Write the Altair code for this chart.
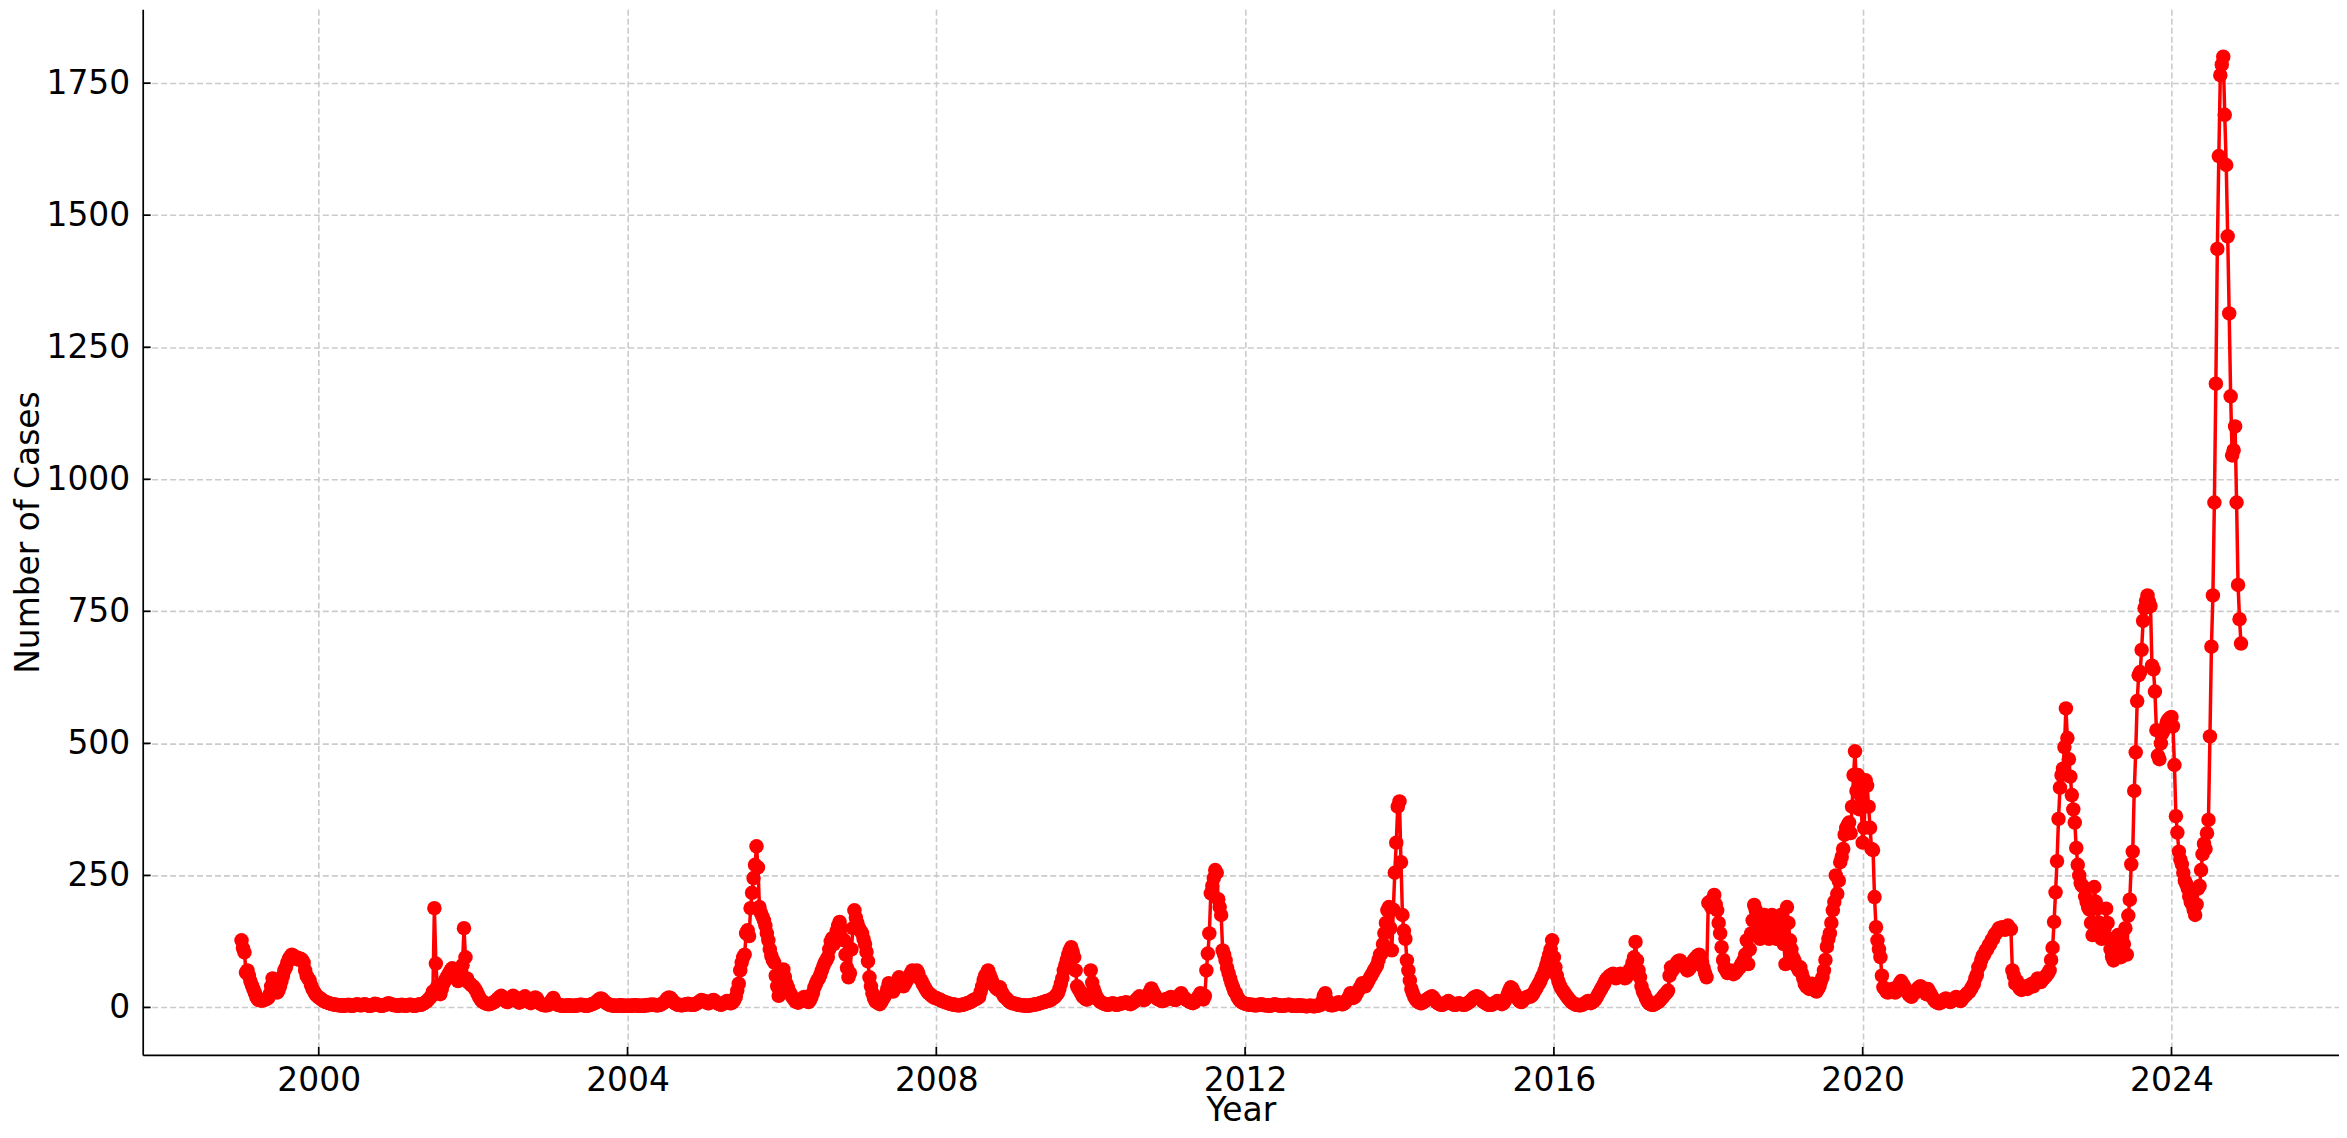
import altair as alt
import pandas as pd

# Weekly case counts (one list per year)
cases_1999 = [127, 112, 104, 66, 70, 60, 50, 42, 35, 28,
              20, 15, 14, 13, 13, 14, 15, 16, 18, 25,
              40, 55, 45, 30, 28, 32, 40, 50, 60, 70,
              76, 85, 92, 96, 100, 98, 95, 92, 94, 90,
              92, 90, 85, 70, 60, 55, 51, 42, 35, 30,
              25, 22]
cases_2000 = [19, 17, 15, 13, 11, 10, 9, 8, 7, 6,
              6, 5, 5, 4, 4, 4, 3, 3, 4, 4,
              5, 4, 3, 3, 4, 5, 6, 5, 4, 4,
              5, 6, 5, 4, 3, 3, 4, 5, 7, 6,
              5, 4, 3, 3, 4, 5, 6, 8, 7, 6,
              5, 4]
cases_2001 = [4, 3, 3, 4, 5, 4, 3, 3, 4, 5,
              5, 4, 3, 3, 4, 5, 6, 5, 6, 8,
              10, 12, 15, 18, 22, 30, 188, 83,
              40, 30, 25, 35, 45, 50, 55, 60, 65, 70,
              74, 70, 60, 55, 50, 60, 70, 80, 150, 95,
              55, 48, 45, 42]
cases_2002 = [40, 36, 32, 26, 20, 15, 12, 10, 8, 7, 6, 6, 7,
              8, 10, 12, 14, 17, 20, 22, 20, 16, 12, 10, 12, 15,
              18, 22, 20, 16, 12, 9, 10, 14, 18, 21, 18, 14, 10,
              8, 10, 14, 19, 17, 12, 8, 6, 5, 4, 4, 4, 5]
cases_2003 = [10, 14, 18, 12, 7, 5, 4, 4, 3, 3,
              3, 3, 4, 4, 3, 3, 3, 3, 4, 4,
              5, 5, 4, 4, 3, 3, 4, 5, 6, 7,
              8, 10, 13, 15, 17, 16, 13, 10, 8, 6,
              5, 4, 4, 3, 3, 3, 3, 4, 4, 3,
              3, 3]
cases_2004 = [3, 3, 3, 3, 4, 4, 4, 3, 3, 3,
              3, 3, 4, 4, 4, 5, 5, 5, 5, 4,
              4, 4, 5, 6, 8, 10, 14, 17, 19, 18,
              15, 11, 8, 6, 5, 5, 4, 4, 5, 5,
              6, 7, 6, 5, 5, 5, 6, 8, 10, 12,
              14, 12]
cases_2005 = [12, 10, 8, 8, 10, 13, 14, 12, 9, 7, 6, 5, 6, 8, 10, 12, 10, 8, 8, 10,
              14, 20, 32, 45, 70, 85, 95, 100, 140, 146, 135, 188, 217, 245, 270, 305,
              265, 190, 179, 172, 165, 155, 140, 127, 110, 98, 90, 85, 60, 40, 22, 45]
cases_2006 = [65, 72, 58, 45, 38, 30, 25, 20, 16, 12, 10, 9, 11, 14, 17, 20,
              15, 12, 10, 14, 20, 28, 38, 45,
              51, 55, 62, 70, 78, 85, 89, 95,
              110, 125, 131, 120, 130, 145, 155, 162,
              150, 130, 127, 100, 75, 57,
              65, 110, 150, 184, 170, 160]
cases_2007 = [150, 145, 140, 130, 120, 105, 87, 57,
              40, 27, 18, 12, 10,
              8, 6, 10, 15, 20, 25, 35, 46,
              40, 35, 30, 35, 45, 50, 57, 50, 45, 40,
              45, 50, 55, 60, 65, 70, 66, 60, 70, 65, 55, 51, 45, 40, 35,
              30, 27, 25, 22, 20, 18]
cases_2008 = [18, 16, 15, 14, 12, 11, 10, 9, 8, 7, 6, 6, 5, 5, 4, 4, 4, 5, 5, 6,
              7, 8, 9, 10, 12, 14, 15, 16, 18, 20,
              30, 40, 52, 60, 64, 70,
              62, 55, 48, 42, 38, 35, 33, 38,
              30, 25, 20, 18, 15, 12, 10, 8]
cases_2009 = [8, 7, 6, 5, 5, 4, 4, 4, 3, 3, 3, 4, 4, 5, 5, 6, 6, 7, 8, 9, 10, 10, 12, 12, 13,
              14, 16, 18, 20, 24, 27, 35, 45, 55, 70, 80, 90, 100, 108, 114, 105, 95, 70,
              40, 35, 30, 25, 20, 18, 15, 15, 25]
cases_2010 = [70, 47, 35, 27, 20, 15, 12, 10, 8, 7,
              6, 5, 5, 6, 7, 8, 6, 5, 5, 6,
              7, 8, 8, 9, 10, 8, 7, 6, 8, 10,
              12, 15, 18, 21, 18, 15, 14, 16, 20, 25,
              30, 36, 30, 25, 20, 16, 15, 14, 12, 12,
              14, 16]
cases_2011 = [16, 18, 20, 18, 15, 14, 16, 20, 24, 27, 22,
              18, 15, 14, 12, 10, 9, 8, 10, 14, 18,
              22, 27, 20, 15, 22,
              70, 102, 140, 216, 230, 245, 260, 255,
              205, 190, 175, 108, 100, 89, 75,
              65, 55, 46, 38, 30, 27, 20, 15, 12, 10, 8]
cases_2012 = [7, 6, 6, 5, 5, 5, 4, 4, 4, 5,
              5, 6, 5, 4, 4, 4, 3, 3, 4, 5,
              6, 5, 4, 4, 3, 3, 3, 4, 4, 5,
              5, 4, 3, 3, 3, 3, 4, 4, 3, 3,
              3, 2, 2, 3, 3, 3, 2, 2, 3, 3,
              4, 5]
cases_2013 = [12, 22, 27, 15, 8, 5,
              4, 4, 5, 6, 8, 10, 8, 6, 6, 8,
              12, 15, 20, 27, 22, 18, 20, 25,
              30, 35, 40, 46, 45, 40, 45, 50, 55,
              60, 65, 70, 75, 80, 90, 100, 102,
              120, 140, 160, 184, 190, 150, 108, 185, 255, 312, 380]
cases_2014 = [390, 275, 175, 145, 130, 89, 70, 51, 35, 27,
              20, 15, 12, 10, 8, 8, 10, 12, 14, 16,
              18, 20, 21, 18, 14, 10, 8, 6, 5, 5,
              6, 8, 10, 12, 10, 8, 6, 5, 5, 6,
              8, 7, 6, 5, 5, 6, 8, 10, 12, 15,
              18, 20]
cases_2015 = [21, 20, 18, 15, 12, 10, 8, 6, 5, 5,
              5, 6, 8, 10, 12, 10, 8, 6, 8, 12,
              18, 25, 32, 38, 36, 30, 25, 20, 15, 12,
              10, 12, 15, 18, 20, 21, 20, 22, 25, 30,
              35, 40, 45, 50, 57, 62, 70, 80, 90, 100,
              110, 127]
cases_2016 = [95, 76, 60, 50, 42, 36, 32, 28, 24, 20, 16, 13, 10, 8, 6, 5,
              5, 4, 4, 5, 6, 8, 10, 12, 10, 8, 10,
              12, 15, 20, 25, 30, 35, 40, 45, 51,
              55, 58, 60, 62, 64, 60, 55, 58, 62, 64,
              60, 58, 55, 57, 62, 70]
cases_2017 = [75, 85, 95, 124, 89, 70, 57, 40, 30, 25,
              18, 12, 8, 6, 5, 5, 6, 8, 10, 12,
              15, 18, 22, 25, 28, 32, 60, 76, 70, 75,
              80, 85, 88, 89, 85, 80, 78, 75, 70, 72,
              76, 80, 88, 92, 95, 98, 100, 90, 85, 75,
              65, 57]
cases_2018 = [198, 200, 190, 205, 213, 195, 184, 160, 140, 114,
              90, 75, 70, 65, 68, 70, 65, 63, 65, 68,
              72, 75, 80, 85, 90, 100, 127, 82, 110, 140,
              165, 194, 185, 170, 150, 130, 140, 160, 175, 165,
              150, 130, 150, 175, 160, 140, 130, 150, 170, 175,
              150, 120]
cases_2019 = [82, 190, 160, 127, 110, 95, 89, 80, 76, 70,
              76, 65, 55, 45, 40, 38, 35, 40, 45, 38,
              32, 30, 35, 40, 50, 57, 70, 90, 115, 130,
              140, 160, 184, 200, 250, 215, 240, 275, 285, 300,
              327, 340, 345, 350, 330, 380, 440, 485, 410, 440,
              375, 400]
cases_2020 = [312, 340, 430, 420, 380, 340, 300, 298, 209, 152,
              127, 110, 95, 60, 38, 35, 30, 28, 30, 32,
              35, 30, 28, 35, 40, 45, 50, 45, 40, 35,
              30, 25, 22, 20, 25, 27, 30, 35, 38, 40,
              38, 35, 30, 25, 35, 30, 25, 20, 15, 12,
              10, 8]
cases_2021 = [8, 10, 12, 15, 17, 15, 12, 10, 12, 15, 17, 20, 18, 15, 12, 15, 20, 22, 25, 28, 30, 35, 40, 45,
              55, 62, 76, 80, 90, 98, 100, 108, 110, 118, 120, 128, 130, 138, 140, 145, 150, 148, 152, 150,
              147, 152, 155, 150, 148,
              70, 60, 45]
cases_2022 = [50, 40, 35, 33, 35, 38,
              40, 35, 38, 42, 45, 40, 45, 50, 55, 50,
              48, 52, 55, 58, 61, 65, 70,
              90, 113, 162, 218, 277,
              357, 416, 440, 452, 493, 566,
              510, 470, 437, 402, 375, 350, 302,
              270, 250, 235, 230, 228, 210, 200,
              190, 185, 160, 137]
cases_2023 = [228, 200, 187, 161, 140, 130, 137, 150, 187, 160, 130, 110, 96, 89, 100, 120, 137, 110, 95, 100, 120, 150,
              100, 174, 204, 271, 295, 410, 483,
              580, 629, 635, 677, 732, 756, 770,
              780, 768, 760, 647, 640, 598, 525,
              477, 470, 500, 519, 525, 530, 540, 545, 548]
cases_2024 = [550, 532, 459, 362, 331, 295, 280, 271, 255, 240,
              234, 225, 210, 200, 195, 185, 175, 195, 225, 230,
              260, 290, 310, 300, 330, 355, 513, 683, 780, 956,
              1181, 1436, 1612, 1765, 1785, 1800, 1690, 1595, 1460, 1314,
              1157, 1045, 1055, 1100, 956, 800, 735, 689]

years = list(range(1999, 2025))
yearly = [cases_1999, cases_2000, cases_2001, cases_2002, cases_2003, cases_2004,
          cases_2005, cases_2006, cases_2007, cases_2008, cases_2009, cases_2010,
          cases_2011, cases_2012, cases_2013, cases_2014, cases_2015, cases_2016,
          cases_2017, cases_2018, cases_2019, cases_2020, cases_2021, cases_2022,
          cases_2023, cases_2024]

x_ticks = [2000, 2004, 2008, 2012, 2016, 2020, 2024]
y_ticks = [0, 250, 500, 750, 1000, 1250, 1500, 1750]

rows = []
for yr, vals in zip(years, yearly):
    for w, v in enumerate(vals):
        rows.append({"t": yr + w * 7 / 365.25, "cases": v})
df = pd.DataFrame(rows)

W, H = 2201, 1048
FONT = "DejaVu Sans"
RED = "#ff0000"

xscale = alt.Scale(domain=[1997.72, 2026.17], nice=False, zero=False)
yscale = alt.Scale(domain=[-90, 1890], nice=False, zero=False)

xaxis = alt.Axis(values=x_ticks, format="d", title="Year",
                 grid=True, gridColor="#cbcbcb", gridDash=[6, 3], gridWidth=1.6,
                 domainColor="black", domainWidth=1.7,
                 ticks=False, tickSize=0,
                 labelFont=FONT, labelFontSize=33, labelColor="black",
                 labelPadding=10, labelBaseline="top",
                 labelFlush=False, labelOverlap=False,
                 titleFont=FONT, titleFontSize=33, titleFontWeight="normal",
                 titleColor="black", titleX=W / 2, titleY=66,
                 titleBaseline="alphabetic", titleAlign="center")
yaxis = alt.Axis(values=y_ticks, format="d", title="Number of Cases",
                 grid=True, gridColor="#cbcbcb", gridDash=[6, 3], gridWidth=1.6,
                 domainColor="black", domainWidth=1.7,
                 ticks=False, tickSize=0,
                 labelFont=FONT, labelFontSize=33, labelColor="black",
                 labelPadding=13, labelFlush=False, labelOverlap=False,
                 titleFont=FONT, titleFontSize=33, titleFontWeight="normal",
                 titleColor="black", titleAngle=270, titleX=-104, titleY=H / 2,
                 titleBaseline="alphabetic", titleAlign="center")

base = alt.Chart(df)
line = base.mark_line(color=RED, strokeWidth=3.5).encode(
    x=alt.X("t:Q", scale=xscale, axis=xaxis),
    y=alt.Y("cases:Q", scale=yscale, axis=yaxis),
)
pts = base.mark_circle(color=RED, size=210, opacity=1).encode(
    x=alt.X("t:Q", scale=xscale, axis=xaxis),
    y=alt.Y("cases:Q", scale=yscale, axis=yaxis),
)

ytick_marks = alt.Chart(pd.DataFrame({"v": y_ticks})).mark_rule(
    color="black", strokeWidth=1.7).encode(
    y=alt.Y("v:Q", scale=yscale, axis=yaxis),
    x=alt.value(0), x2=alt.value(8),
)
xtick_marks = alt.Chart(pd.DataFrame({"v": x_ticks})).mark_rule(
    color="black", strokeWidth=1.7).encode(
    x=alt.X("v:Q", scale=xscale, axis=xaxis),
    y=alt.value(H), y2=alt.value(H - 8),
)

chart = alt.layer(line, pts, ytick_marks, xtick_marks).properties(
    width=W, height=H,
    padding={"left": 135, "right": 0, "top": 0, "bottom": 74},
    autosize=alt.AutoSizeParams(type="none"),
    background="white",
).configure_view(stroke=None)

chart.save("out.html", embed_options={"renderer": "svg", "actions": False})
